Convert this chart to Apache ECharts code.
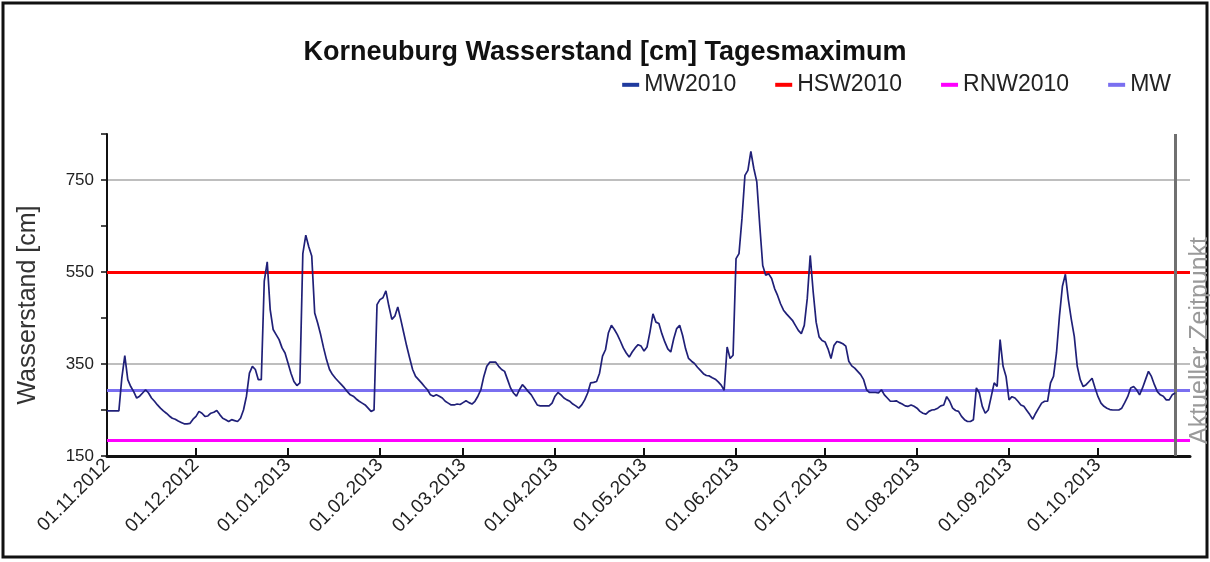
<html>
  <head>
    <script src="https://cdn.jsdelivr.net/npm/echarts@6.0.0/dist/echarts.min.js"></script>
    <title>Korneuburg Wasserstand</title>
  </head>
  <body style="margin:0; background-color:#ffffff;">
    <div id="chart" style="width:1210px; height:562px;"></div>
    <script>
      // daily maxima, cm, one array per month
      const nov2012 = [248,248,248,248,248,320,368,316,301,290,276,280,287,294,287,276,269,261,254,248,243,237,232,230,226,223,220,220,221,230];
      const dec2012 = [236,247,243,236,237,243,245,249,240,232,229,225,229,227,225,232,250,280,330,345,338,316,316,530,572,468,425,414,403,385,374];
      const jan2013 = [352,330,312,303,309,590,630,605,585,461,439,414,385,359,338,327,319,312,305,298,290,283,280,274,269,265,261,254,247,250,479];
      const feb2013 = [490,494,509,476,447,454,474,447,418,389,363,338,323,316,309,301,294,283,280,283,280,276,269,265,261,261,263,262];
      const mar2013 = [266,270,266,263,269,280,294,323,345,354,354,354,345,338,334,316,298,287,280,294,305,298,290,283,272,261,259,259,259,259,265];
      const apr2013 = [280,288,283,276,272,269,263,259,254,261,272,287,309,310,312,330,367,381,418,434,425,414,400,385,374,365,376,385,392,389];
      const may2013 = [378,387,420,459,441,438,416,398,383,376,405,427,434,412,383,362,356,351,343,336,329,325,324,320,317,311,304,293,387,362,369];
      const jun2013 = [579,590,666,760,771,812,775,746,651,564,543,546,536,514,499,481,467,459,452,445,434,423,416,434,492,586,507,441,409,401];
      const jul2013 = [398,383,362,390,399,397,394,389,356,346,341,334,327,316,294,288,288,288,287,294,283,276,269,269,270,266,263,259,258,261,258];
      const aug2013 = [254,247,243,241,247,250,251,254,259,261,279,269,254,249,247,236,229,225,225,229,298,287,258,243,250,279,309,301,403,345,323];
      const sep2013 = [272,279,276,269,261,258,249,240,230,243,254,265,269,269,309,323,374,454,519,545,490,447,410,345,316,301,305,312,319,298];
      const oct2013 = [279,265,258,254,251,250,250,250,254,266,279,298,301,294,283,298,316,334,323,305,290,283,280,272,272,283,287];

      const levels = [].concat(nov2012, dec2012, jan2013, feb2013, mar2013, apr2013,
                               may2013, jun2013, jul2013, aug2013, sep2013, oct2013);

      const HSW2010 = 550;
      const RNW2010 = 184;
      const MW = 293;
      const currentDay = '27.10.2013';

      // one category per day, 01.11.2012 .. 01.11.2013
      const days = [];
      for (let t = Date.UTC(2012, 10, 1); t <= Date.UTC(2013, 10, 1); t += 86400000) {
        const d = new Date(t);
        const dd = String(d.getUTCDate()).padStart(2, '0');
        const mm = String(d.getUTCMonth() + 1).padStart(2, '0');
        days.push(dd + '.' + mm + '.' + d.getUTCFullYear());
      }
      const lastDay = days[days.length - 1];
      const isMonthStart = (i, v) => v.slice(0, 3) === '01.' && v !== lastDay;

      const font = '"Liberation Sans", Arial, sans-serif';
      const chart = echarts.init(document.getElementById('chart'));

      const hline = (name, color, value) => ({
        name: name,
        type: 'line',
        data: [],
        color: color,
        markLine: {
          silent: true,
          symbol: 'none',
          animation: false,
          label: { show: false },
          lineStyle: { color: color, width: 3, type: 'solid' },
          data: [{ yAxis: value }]
        }
      });

      chart.setOption({
        animation: false,
        backgroundColor: '#ffffff',
        textStyle: { fontFamily: font },
        graphic: [{
          type: 'rect',
          shape: { x: 3, y: 3, width: 1204, height: 554 },
          style: { fill: 'none', stroke: '#111', lineWidth: 3 }
        }],
        title: {
          text: 'Korneuburg Wasserstand [cm] Tagesmaximum',
          left: 'center',
          top: 24,
          textStyle: { fontSize: 27, fontWeight: 'bold', color: '#111', fontFamily: font }
        },
        legend: {
          right: 34,
          top: 60,
          icon: 'rect',
          itemWidth: 17,
          itemHeight: 4,
          itemGap: 39,
          textStyle: { fontSize: 23, color: '#222', fontFamily: font },
          data: ['MW2010', 'HSW2010', 'RNW2010', 'MW']
        },
        grid: { left: 107, right: 20, top: 134, bottom: 106, containLabel: false, outerBoundsMode: 'none' },
        xAxis: {
          type: 'category',
          data: days,
          boundaryGap: false,
          axisLine: { lineStyle: { color: '#111', width: 3 } },
          axisTick: { inside: true, length: 8, interval: isMonthStart, lineStyle: { color: '#111', width: 2 } },
          axisLabel: { interval: isMonthStart, rotate: 45, fontSize: 19, color: '#222', margin: 6 },
          splitLine: { show: false }
        },
        yAxis: {
          type: 'value',
          min: 150,
          max: 850,
          interval: 100,
          name: 'Wasserstand [cm]',
          nameLocation: 'middle',
          nameGap: 57,
          nameTextStyle: { fontSize: 25, color: '#333', padding: [0, 20, 0, 0] },
          axisLine: { show: true, lineStyle: { color: '#111', width: 2 } },
          axisTick: { show: true, length: 6, lineStyle: { color: '#111', width: 1.5 } },
          axisLabel: {
            fontSize: 17, color: '#222', margin: 13,
            formatter: v => ((v - 150) % 200 === 0 && v < 850 ? String(v) : '')
          },
          splitLine: {
            show: true,
            lineStyle: { color: ['rgba(0,0,0,0)', 'rgba(0,0,0,0)', '#a8a8a8', 'rgba(0,0,0,0)', '#a8a8a8', 'rgba(0,0,0,0)', '#a8a8a8', 'rgba(0,0,0,0)'], width: 1.5 }
          }
        },
        series: [
          hline('HSW2010', '#ff0000', HSW2010),
          hline('RNW2010', '#ff00ff', RNW2010),
          hline('MW', '#7a6ff0', MW),
          {
            name: 'MW2010',
            type: 'line',
            data: levels,
            color: '#1f3a9e',
            symbol: 'none',
            z: 5,
            lineStyle: { color: '#202078', width: 1.7 },
            markLine: {
              silent: true,
              symbol: 'none',
              lineStyle: { color: '#707070', width: 3, type: 'solid' },
              label: {
                show: true,
                position: 'insideStartBottom',
                formatter: 'Aktueller Zeitpunkt',
                color: '#9a9a9a',
                fontSize: 25,
                distance: 3,
                padding: [0, 0, 0, 9]
              },
              data: [{ xAxis: currentDay }]
            }
          }
        ]
      });
    </script>
  </body>
</html>
